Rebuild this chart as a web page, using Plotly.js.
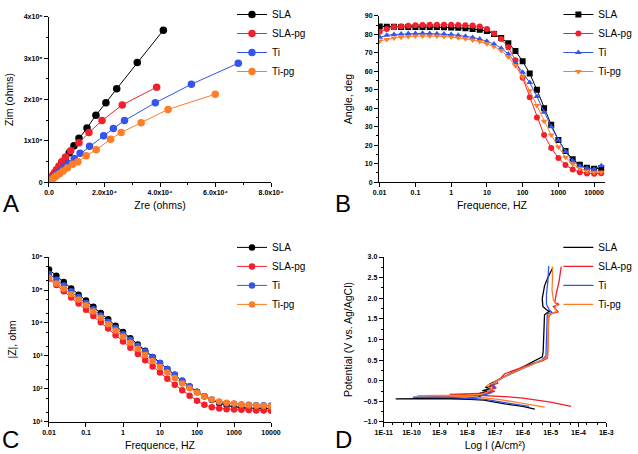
<!DOCTYPE html>
<html>
<head>
<meta charset="utf-8">
<script src="https://cdn.plot.ly/plotly-3.0.1.min.js"></script>
<style>html,body{margin:0;padding:0;background:#fff;}#chart{width:638px;height:454px;}</style>
</head>
<body>
<div id="chart"></div>
<script>
// ---------- Series names and colours ----------
const seriesNames = ['SLA', 'SLA-pg', 'Ti', 'Ti-pg'];
const seriesColors = ['#000000', '#f2202c', '#3355ee', '#ff7d26'];

// ---------- Panel A: Nyquist (Zre, Zim in ohms) ----------
const zreSLA   = [41200, 31800, 24400, 20500, 16900, 13700, 10800, 9000, 7300, 5900, 4700, 3700, 2800, 2100, 1500, 1000, 600, 300, 100];
const zimSLA   = [368000, 290000, 226000, 192000, 162000, 131000, 106000, 88000, 71000, 57500, 47000, 37000, 29000, 21000, 15000, 10000, 6500, 3500, 1000];
const zreSLApg = [38800, 26400, 19100, 14400, 10800, 7800, 6000, 4600, 3600, 2700, 2000, 1400, 900, 500, 200];
const zimSLApg = [230000, 187000, 149000, 120000, 95000, 76000, 61000, 49000, 39000, 30000, 23000, 17000, 11000, 6000, 2000];
const zreTi    = [68200, 51300, 38300, 27200, 23200, 19700, 14600, 11200, 9100, 7100, 5500, 4200, 3200, 2400, 1700, 1100, 600, 200];
const zimTi    = [288000, 237000, 192000, 149000, 130000, 112000, 87000, 70000, 57000, 45000, 36000, 28000, 22000, 17000, 12000, 8000, 4000, 1000];
const zreTipg  = [59900, 42900, 33200, 26000, 22200, 17000, 13400, 10400, 8500, 6600, 5100, 3900, 2900, 2100, 1400, 800, 400, 100];
const zimTipg  = [213000, 176000, 144000, 120000, 104000, 78000, 64000, 49000, 43000, 34000, 27000, 21000, 16000, 12000, 8000, 5000, 3000, 1000];
const aXTickVals = [0, 20000, 40000, 60000, 80000];
const aXTickText = ['0.0', '2.0x10\u2074', '4.0x10\u2074', '6.0x10\u2074', '8.0x10\u2074'];
const aYTickVals = [0, 100000, 200000, 300000, 400000];
const aYTickText = ['0', '1x10\u2075', '2x10\u2075', '3x10\u2075', '4x10\u2075'];

// ---------- Panel B: Bode phase (deg) ----------
const freqB = [0.01, 0.0158, 0.0251, 0.0398, 0.0631, 0.1, 0.158, 0.251, 0.398, 0.631, 1, 1.58, 2.51, 3.98, 6.31, 10, 15.8, 25.1, 39.8, 63.1, 100, 158, 251, 398, 631, 1000, 1585, 2512, 3981, 6310, 10000, 15849];
const angSLA   = [84.3, 84.2, 84.1, 84.0, 84.0, 84.0, 84.0, 84.0, 84.0, 83.9, 83.8, 83.6, 83.3, 83.0, 82.5, 81.8, 80.3, 78.0, 75.2, 71.0, 65.5, 58.8, 50.0, 40.0, 31.0, 22.8, 16.8, 12.3, 9.4, 7.8, 7.2, 7.5];
const angSLApg = [81.5, 83.0, 84.0, 84.5, 84.7, 85.0, 85.1, 85.2, 85.2, 85.2, 85.2, 85.1, 85.0, 84.8, 84.3, 83.0, 80.5, 77.5, 73.0, 66.0, 56.5, 46.0, 35.0, 25.5, 18.5, 13.0, 9.3, 6.8, 5.3, 4.7, 4.5, 4.8];
const angTi    = [78.5, 79.5, 80.0, 80.3, 80.5, 80.5, 80.6, 80.5, 80.4, 80.2, 79.9, 79.5, 79.0, 78.4, 77.5, 76.3, 74.8, 72.5, 69.4, 64.7, 59.5, 53.9, 46.3, 37.8, 30.0, 22.8, 16.5, 11.4, 8.7, 7.4, 7.0, 8.9];
const angTipg  = [76.5, 77.3, 78.0, 78.5, 78.9, 79.1, 79.2, 79.2, 79.1, 78.9, 78.6, 78.2, 77.7, 77.0, 76.2, 75.0, 73.5, 71.3, 67.8, 63.0, 57.0, 49.5, 41.5, 33.0, 25.5, 19.0, 13.5, 9.8, 7.3, 5.9, 5.3, 5.3];
const freqTickVals = [0.01, 0.1, 1, 10, 100, 1000, 10000];
const freqTickText = ['0.01', '0.1', '1', '10', '100', '1000', '10000'];

// ---------- Panel C: Bode modulus |Z| (ohm) ----------
const freqC = [0.01, 0.0158, 0.0251, 0.0398, 0.0631, 0.1, 0.158, 0.251, 0.398, 0.631, 1, 1.58, 2.51, 3.98, 6.31, 10, 15.8, 25.1, 39.8, 63.1, 100, 158, 251, 398, 631, 1000, 1585, 2512, 3981, 6310, 10000];
const zmodSLA   = [417000, 269000, 174000, 112000, 72400, 47900, 30900, 20000, 12900, 8320, 5370, 3470, 2240, 1450, 933, 617, 407, 269, 178, 120, 83, 60, 46, 37, 32, 29, 27, 26.3, 25.7, 25.7, 25.7];
const zmodSLApg = [218800, 141300, 91200, 58900, 38900, 25100, 16200, 10500, 6760, 4270, 2750, 1780, 1150, 741, 479, 316, 204, 135, 91, 62, 43.7, 33.1, 28.2, 25.7, 24.5, 24, 23.4, 22.9, 22.4, 22.4, 21.9];
const zmodTi    = [309000, 204000, 138000, 91200, 61700, 40700, 26300, 17000, 11000, 7080, 4570, 3090, 2040, 1380, 912, 617, 407, 269, 178, 120, 81.3, 60.3, 47.9, 40.7, 37.2, 35.5, 33.9, 33.1, 32.4, 32.4, 31.6];
const zmodTipg  = [234000, 158000, 110000, 74100, 51300, 34700, 22400, 14500, 9120, 5890, 3800, 2510, 1660, 1070, 708, 468, 316, 214, 148, 105, 77.6, 58.9, 47.9, 41.7, 38, 36.3, 33.9, 32.4, 31.6, 30.9, 30.2];
const cYTickVals = [10, 100, 1000, 10000, 100000, 1000000];
const cYTickText = ['10\u00B9', '10\u00B2', '10\u00B3', '10\u2074', '10\u2075', '10\u2076'];

// ---------- Panel D: Polarisation (I in A/cm2, potential in V) ----------
const curSLA = [2.69e-6, 1.0e-6, 2.24e-7, 7.94e-8, 3.98e-8, 1.26e-8, 2.51e-9, 2.69e-11, 1e-9, 1e-8, 2.51e-8, 3.16e-8, 5.0e-8, 2.82e-8, 6.3e-8, 3.5e-8, 7.0e-8, 4.5e-8, 8.0e-8, 6.3e-8, 1.0e-7, 1.58e-7, 3.16e-7, 7.08e-7, 1.58e-6, 3.16e-6, 5.01e-6, 5.37e-6, 5.62e-6, 5.75e-6, 6.03e-6, 7.94e-6, 8.91e-6, 7.08e-6, 5.25e-6, 5.0e-6, 6.03e-6, 7.94e-6, 1.2e-5];
const potSLA = [-0.69, -0.62, -0.56, -0.50, -0.47, -0.45, -0.44, -0.44, -0.43, -0.42, -0.40, -0.36, -0.33, -0.30, -0.27, -0.24, -0.20, -0.16, -0.12, -0.08, -0.02, 0.05, 0.15, 0.28, 0.40, 0.50, 0.58, 0.70, 1.00, 1.30, 1.60, 1.66, 1.68, 1.72, 1.80, 2.00, 2.30, 2.50, 2.74];
const curSLApg = [5.37e-5, 2.51e-5, 1e-5, 3.16e-6, 1e-6, 3.16e-7, 1e-7, 3.16e-8, 1e-8, 2.34e-9, 6.31e-9, 2e-8, 5.01e-8, 1e-7, 6.31e-8, 1.12e-7, 7.08e-8, 1.26e-7, 1.12e-7, 1.58e-7, 2.24e-7, 6.31e-7, 2.04e-6, 5.01e-6, 7.59e-6, 7.94e-6, 8.32e-6, 8.51e-6, 1e-5, 1.86e-5, 1.58e-5, 1.26e-5, 2e-5, 1.41e-5, 1.58e-5, 2e-5, 2.4e-5];
const potSLApg = [-0.62, -0.57, -0.52, -0.47, -0.42, -0.39, -0.37, -0.35, -0.34, -0.33, -0.325, -0.32, -0.30, -0.26, -0.22, -0.17, -0.12, -0.06, 0.0, 0.06, 0.17, 0.28, 0.41, 0.48, 0.55, 0.80, 1.20, 1.55, 1.62, 1.67, 1.72, 1.80, 1.85, 1.90, 2.10, 2.40, 2.77];
const curTi = [1.66e-6, 5.01e-7, 1.58e-7, 5.01e-8, 1.58e-8, 3.16e-9, 1.12e-10, 1e-9, 1e-8, 2.51e-8, 5.01e-8, 7.94e-8, 5.62e-8, 1e-7, 7.94e-8, 1.26e-7, 2e-7, 3.89e-7, 1.26e-6, 4.68e-6, 6.76e-6, 7.08e-6, 7.24e-6, 7.59e-6, 1.1e-5, 8.91e-6, 7.08e-6, 7.08e-6, 7.94e-6, 8.51e-6];
const potTi = [-0.62, -0.56, -0.50, -0.46, -0.43, -0.41, -0.40, -0.39, -0.38, -0.36, -0.33, -0.28, -0.22, -0.15, -0.08, 0.0, 0.08, 0.17, 0.32, 0.50, 0.60, 1.00, 1.40, 1.62, 1.66, 1.72, 1.85, 2.10, 2.40, 2.78];
const curTipg = [6.17e-6, 2e-6, 6.31e-7, 2e-7, 6.31e-8, 1.58e-8, 3.16e-9, 1.62e-10, 1e-9, 1e-8, 3.16e-8, 5.01e-8, 7.94e-8, 5.01e-8, 8.91e-8, 1.41e-7, 2.51e-7, 6.31e-7, 2e-6, 5.62e-6, 7.94e-6, 7.94e-6, 8.32e-6, 8.71e-6, 1.41e-5, 1.66e-5, 1.41e-5, 1.66e-5, 1.26e-5, 1.12e-5, 1.17e-5, 1.15e-5];
const potTipg = [-0.64, -0.58, -0.52, -0.47, -0.43, -0.39, -0.37, -0.36, -0.355, -0.35, -0.33, -0.28, -0.20, -0.12, -0.05, 0.03, 0.12, 0.25, 0.38, 0.52, 0.60, 1.00, 1.40, 1.60, 1.66, 1.68, 1.75, 1.85, 1.95, 2.20, 2.50, 2.77];
const dXTickVals = [1e-11, 1e-10, 1e-9, 1e-8, 1e-7, 1e-6, 1e-5, 1e-4, 1e-3];
const dXTickText = ['1E-11', '1E-10', '1E-9', '1E-8', '1E-7', '1E-6', '1E-5', '1E-4', '1E-3'];

// ---------- Build traces ----------
const FONT = 'Liberation Sans, Arial, sans-serif';
const traces = [];
const aX = [zreSLA, zreSLApg, zreTi, zreTipg];
const aY = [zimSLA, zimSLApg, zimTi, zimTipg];
const bY = [angSLA, angSLApg, angTi, angTipg];
const bSym = ['square', 'circle', 'triangle-up', 'triangle-down'];
const cY = [zmodSLA, zmodSLApg, zmodTi, zmodTipg];
const dX = [curSLA, curSLApg, curTi, curTipg];
const dY = [potSLA, potSLApg, potTi, potTipg];

for (let i = 0; i < 4; i++) {
  traces.push({x: aX[i], y: aY[i], xaxis: 'x', yaxis: 'y', mode: 'lines+markers', name: seriesNames[i],
    legend: 'legend', line: {color: seriesColors[i], width: 1}, marker: {color: seriesColors[i], size: 7.5, symbol: 'circle'}});
}
for (let i = 0; i < 4; i++) {
  traces.push({x: freqB, y: bY[i], xaxis: 'x2', yaxis: 'y2', mode: 'lines+markers', name: seriesNames[i],
    legend: 'legend2', line: {color: seriesColors[i], width: 1}, marker: {color: seriesColors[i], size: 6, symbol: bSym[i]}});
}
for (let i = 0; i < 4; i++) {
  traces.push({x: freqC, y: cY[i], xaxis: 'x3', yaxis: 'y3', mode: 'lines+markers', name: seriesNames[i],
    legend: 'legend3', line: {color: seriesColors[i], width: 1}, marker: {color: seriesColors[i], size: 6.5, symbol: 'circle'}});
}
for (let i = 0; i < 4; i++) {
  traces.push({x: dX[i], y: dY[i], xaxis: 'x4', yaxis: 'y4', mode: 'lines', name: seriesNames[i],
    legend: 'legend4', line: {color: seriesColors[i], width: 1.3}});
}

function ax(extra) {
  return Object.assign({
    showline: true, linecolor: '#000', linewidth: 1, mirror: false,
    ticks: 'outside', ticklen: 4, tickwidth: 1, tickcolor: '#000',
    showgrid: false, zeroline: false, automargin: false,
    tickfont: {family: FONT, size: 7, color: '#000', weight: 'bold'},
  }, extra);
}
function ttl(text, standoff) {
  return {text: text, font: {family: FONT, size: 10.5, color: '#000'}, standoff: standoff};
}
function leg(x, y, xanchor) {
  return {x: x, y: y, xanchor: xanchor, yanchor: 'top', bgcolor: 'rgba(0,0,0,0)',
    font: {family: FONT, size: 10, color: '#000'}, itemwidth: 30, tracegroupgap: 0};
}

const layout = {
  width: 638, height: 454, autosize: false,
  margin: {l: 0, r: 0, t: 0, b: 0},
  paper_bgcolor: '#fff', plot_bgcolor: '#fff',
  showlegend: true,
  xaxis: ax({domain: [0.0768, 0.4248], range: [0, 80000], anchor: 'y', tickvals: aXTickVals, ticktext: aXTickText,
    minor: {ticks: 'outside', ticklen: 2, dtick: 10000, tickcolor: '#000'}, title: ttl('Zre (ohms)', 6)}),
  yaxis: ax({domain: [0.599, 0.9626], range: [0, 400000], anchor: 'x', tickvals: aYTickVals, ticktext: aYTickText,
    minor: {ticks: 'outside', ticklen: 2, dtick: 50000, tickcolor: '#000'}, title: ttl('Zim (ohms)', 8)}),
  xaxis2: ax({domain: [0.594, 0.948], type: 'log', range: [-2.02, 4.3], anchor: 'y2', tickvals: freqTickVals, ticktext: freqTickText,
    title: ttl('Frequence, HZ', 6)}),
  yaxis2: ax({domain: [0.599, 0.9648], range: [0, 90], anchor: 'x2', dtick: 10,
    minor: {ticks: 'outside', ticklen: 2, dtick: 5, tickcolor: '#000'}, title: ttl('Angle, deg', 10)}),
  xaxis3: ax({domain: [0.0768, 0.4248], type: 'log', range: [-2, 4], anchor: 'y3', tickvals: freqTickVals, ticktext: freqTickText,
    title: ttl('Frequence, HZ', 6)}),
  yaxis3: ax({domain: [0.0705, 0.4339], type: 'log', range: [1, 6], anchor: 'x3', tickvals: cYTickVals, ticktext: cYTickText,
    minor: {ticks: 'outside', ticklen: 2, tickcolor: '#000'}, title: ttl('|Z|, ohm', 12)}),
  xaxis4: ax({domain: [0.6014, 0.9503], type: 'log', range: [-11, -3], anchor: 'y4', tickvals: dXTickVals, ticktext: dXTickText,
    minor: {ticks: 'outside', ticklen: 2, tickcolor: '#000'}, title: ttl('Log I (A/cm\u00B2)', 6)}),
  yaxis4: ax({domain: [0.0705, 0.4339], range: [-1, 3], anchor: 'x4', dtick: 0.5, tickformat: '.1f',
    minor: {ticks: 'outside', ticklen: 2, dtick: 0.25, tickcolor: '#000'}, title: ttl('Potential (V vs. Ag/AgCl)', 8)}),
  legend: leg(232 / 638, 1.0, 'left'),
  legend2: leg(0.999, 1.0, 'right'),
  legend3: leg(232 / 638, 0.487, 'left'),
  legend4: leg(0.999, 0.487, 'right'),
  annotations: [
    {text: 'A', x: 0.002, y: 0.585, xref: 'paper', yref: 'paper', xanchor: 'left', yanchor: 'top', showarrow: false, font: {family: FONT, size: 24, color: '#000'}},
    {text: 'B', x: 0.522, y: 0.585, xref: 'paper', yref: 'paper', xanchor: 'left', yanchor: 'top', showarrow: false, font: {family: FONT, size: 24, color: '#000'}},
    {text: 'C', x: 0.0, y: 0.065, xref: 'paper', yref: 'paper', xanchor: 'left', yanchor: 'top', showarrow: false, font: {family: FONT, size: 24, color: '#000'}},
    {text: 'D', x: 0.522, y: 0.065, xref: 'paper', yref: 'paper', xanchor: 'left', yanchor: 'top', showarrow: false, font: {family: FONT, size: 24, color: '#000'}}
  ]
};

Plotly.newPlot('chart', traces, layout, {staticPlot: true, displayModeBar: false});
</script>
</body>
</html>
